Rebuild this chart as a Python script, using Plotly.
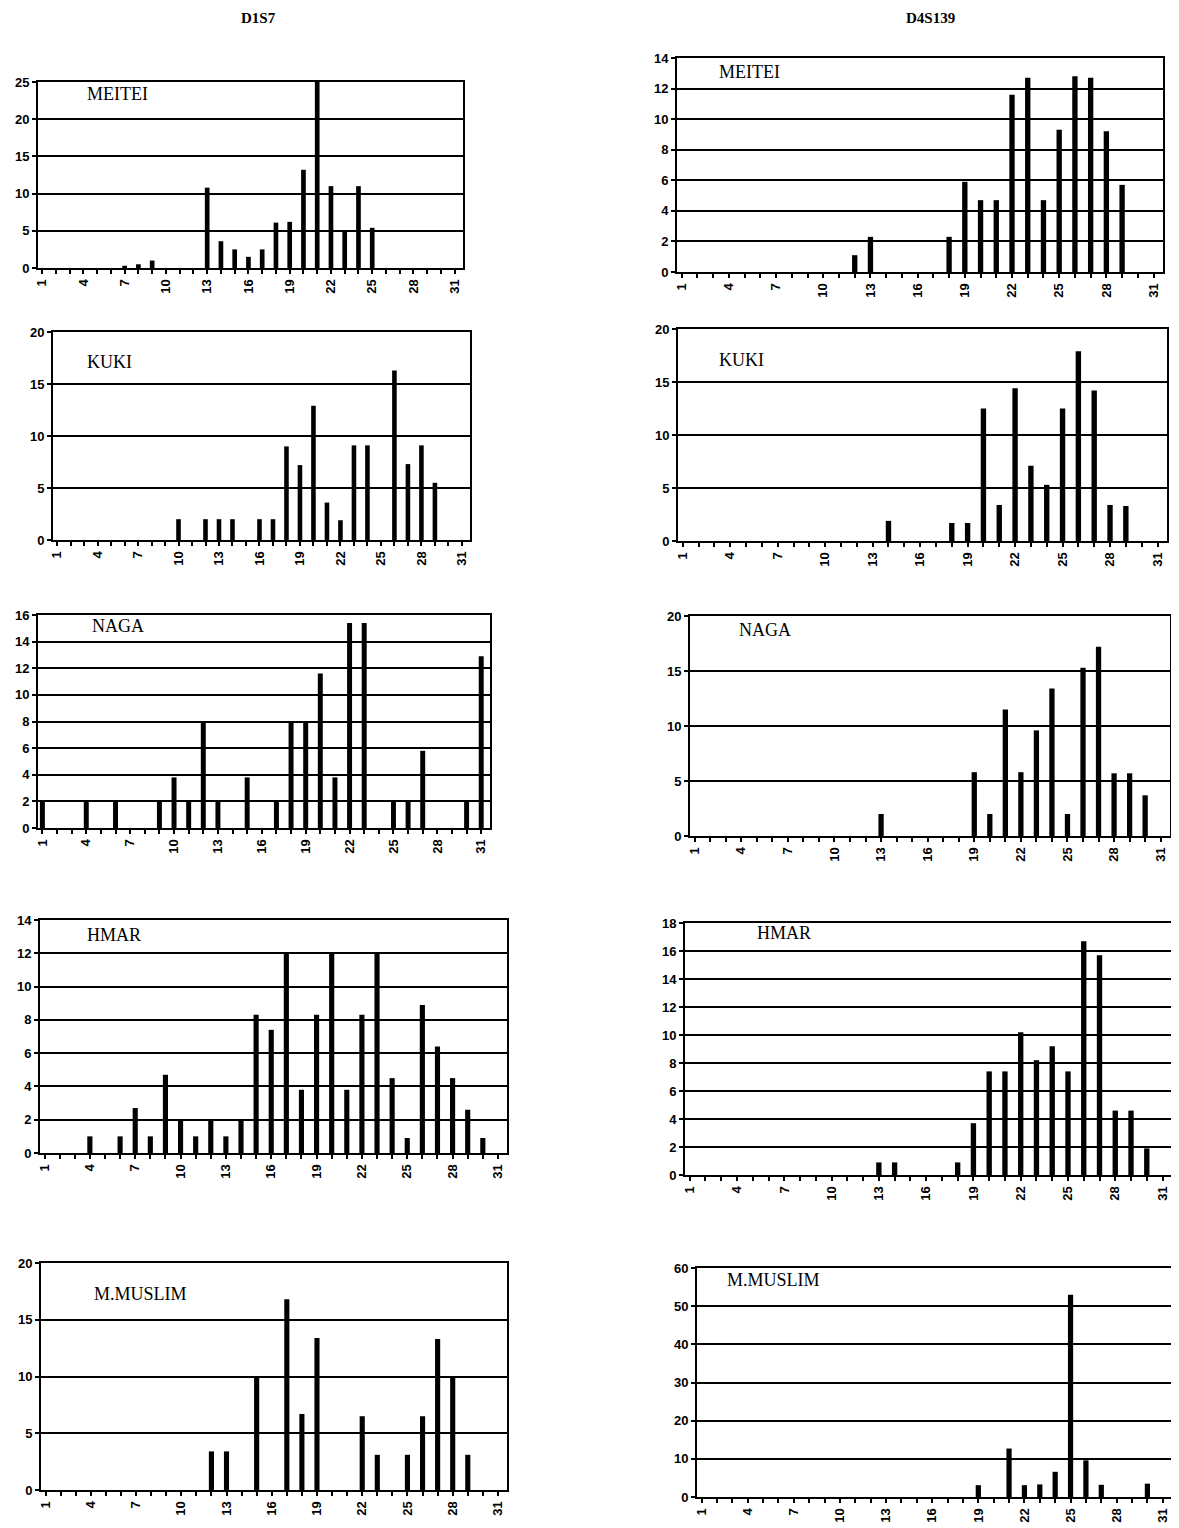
import plotly.graph_objects as go

categories = list(range(1, 32))
tick_labels = [str(c) if (c - 1) % 3 == 0 else "" for c in categories]

d1s7_meitei = [0, 0, 0, 0, 0, 0, 0.3, 0.5, 1.0, 0, 0, 0, 10.8, 3.6, 2.5, 1.5, 2.5, 6.1, 6.2, 13.2, 25, 11, 5.1, 11, 5.4, 0, 0, 0, 0, 0, 0]
d4s139_meitei = [0]*11 + [1.1, 2.3] + [0]*4 + [2.3, 5.9, 4.7, 4.7, 11.6, 12.7, 4.7, 9.3, 12.8, 12.7, 9.2, 5.7] + [0, 0]
d1s7_kuki = [0]*9 + [2, 0, 2, 2, 2, 0, 2, 2, 9.0, 7.2, 12.9, 3.6, 1.9, 9.1, 9.1, 0, 16.3, 7.3, 9.1, 5.5] + [0, 0]
d4s139_kuki = [0]*13 + [1.9] + [0]*3 + [1.7, 1.7, 12.5, 3.4, 14.4, 7.1, 5.3, 12.5, 17.9, 14.2, 3.4, 3.3] + [0, 0]
d1s7_naga = [2, 0, 0, 2, 0, 2, 0, 0, 2, 3.8, 2, 7.9, 2, 0, 3.8, 0, 2, 7.9, 7.9, 11.6, 3.8, 15.4, 15.4, 0, 2, 2, 5.8, 0, 0, 2, 12.9]
d4s139_naga = [0]*12 + [2] + [0]*5 + [5.8, 2, 11.5, 5.8, 9.6, 13.4, 2, 15.3, 17.2, 5.7, 5.7, 3.7] + [0]
d1s7_hmar = [0, 0, 0, 1, 0, 1, 2.7, 1, 4.7, 2, 1, 2, 1, 2, 8.3, 7.4, 12, 3.8, 8.3, 12, 3.8, 8.3, 12, 4.5, 0.9, 8.9, 6.4, 4.5, 2.6, 0.9, 0]
d4s139_hmar = [0]*12 + [0.9, 0.9] + [0, 0, 0] + [0.9, 3.7, 7.4, 7.4, 10.2, 8.2, 9.2, 7.4, 16.7, 15.7, 4.6, 4.6, 1.9] + [0]
d1s7_muslim = [0]*11 + [3.4, 3.4, 0, 9.9, 0, 16.8, 6.7, 13.4, 0, 0, 6.5, 3.1, 0, 3.1, 6.5, 13.3, 9.9, 3.1] + [0, 0]
d4s139_muslim = [0]*18 + [3.1, 0, 12.7, 3.1, 3.3, 6.6, 53, 9.6, 3.2, 0, 0, 3.5, 0]

population_names = ["MEITEI", "KUKI", "NAGA", "HMAR", "M.MUSLIM"]
locus_titles = ["D1S7", "D4S139"]

W, H = 1179, 1528
OFF = 8  # page body margin


def px(x):
    return (x - OFF) / W


def py(y):
    return 1 - (y - OFF) / H


# (series, name, ymax, dtick, x0, x1, ytop, ybottom, label_x, label_y) in page pixels
panels = [
    (d1s7_meitei, population_names[0], 25, 5, 38, 463, 82, 268, 85, 94),
    (d4s139_meitei, population_names[0], 14, 2, 677, 1163, 58, 272, 717, 72),
    (d1s7_kuki, population_names[1], 20, 5, 53, 470, 332, 540, 85, 362),
    (d4s139_kuki, population_names[1], 20, 5, 678, 1167, 329, 541, 717, 360),
    (d1s7_naga, population_names[2], 16, 2, 38, 490, 615, 828, 90, 626),
    (d4s139_naga, population_names[2], 20, 5, 690, 1170, 616, 836, 737, 630),
    (d1s7_hmar, population_names[3], 14, 2, 40, 507, 920, 1153, 85, 935),
    (d4s139_hmar, population_names[3], 18, 2, 685, 1172, 923, 1175, 755, 933),
    (d1s7_muslim, population_names[4], 20, 5, 41, 507, 1263, 1490, 92, 1294),
    (d4s139_muslim, population_names[4], 60, 10, 697, 1172, 1268, 1497, 725, 1280),
]

fig = go.Figure()
layout = dict(
    width=W, height=H, margin=dict(l=0, r=0, t=0, b=0, pad=0, autoexpand=False),
    paper_bgcolor="white", plot_bgcolor="white", showlegend=False,
)
annotations = []
tickfont = dict(family="Liberation Sans", size=13, color="black", weight="bold")
for i, (vals, name, ymax, dt, x0, x1, yt, yb, lx, ly) in enumerate(panels):
    k = i + 1
    xa = "x" if k == 1 else f"x{k}"
    ya = "y" if k == 1 else f"y{k}"
    fig.add_trace(go.Bar(x=categories, y=vals, xaxis=xa, yaxis=ya,
                         marker=dict(color="black", line=dict(width=0)), width=0.34))
    layout[f"xaxis{k}"] = dict(
        domain=[px(x0), px(x1)], anchor=ya, range=[0.7, 31.6], automargin=False,
        tickmode="array", tickvals=categories, ticktext=tick_labels, tickangle=-90,
        ticks="outside", ticklen=4, tickwidth=2, tickcolor="black",
        showline=True, linecolor="black", linewidth=2, mirror=True,
        showgrid=False, zeroline=False, tickfont=tickfont,
    )
    layout[f"yaxis{k}"] = dict(
        domain=[py(yb), py(yt)], anchor=xa, range=[0, ymax], automargin=False,
        dtick=dt, tick0=0, ticks="outside", ticklen=4, tickwidth=2, tickcolor="black",
        showline=True, linecolor="black", linewidth=2, mirror=True,
        showgrid=True, gridcolor="black", gridwidth=2, zeroline=False, tickfont=tickfont,
    )
    annotations.append(dict(
        text=name, x=px(lx), y=py(ly), xref="paper", yref="paper",
        xanchor="left", yanchor="middle", showarrow=False,
        font=dict(family="Liberation Serif", size=18, color="black"),
    ))

annotations.append(dict(text="<b>%s</b>" % locus_titles[0], x=px(258), y=py(18), xref="paper", yref="paper",
                        xanchor="center", yanchor="middle", showarrow=False,
                        font=dict(family="Liberation Serif", size=15, color="black")))
annotations.append(dict(text="<b>%s</b>" % locus_titles[1], x=px(930), y=py(18), xref="paper", yref="paper",
                        xanchor="center", yanchor="middle", showarrow=False,
                        font=dict(family="Liberation Serif", size=15, color="black")))
layout["annotations"] = annotations
fig.update_layout(**layout)
fig.write_html("out.html")
